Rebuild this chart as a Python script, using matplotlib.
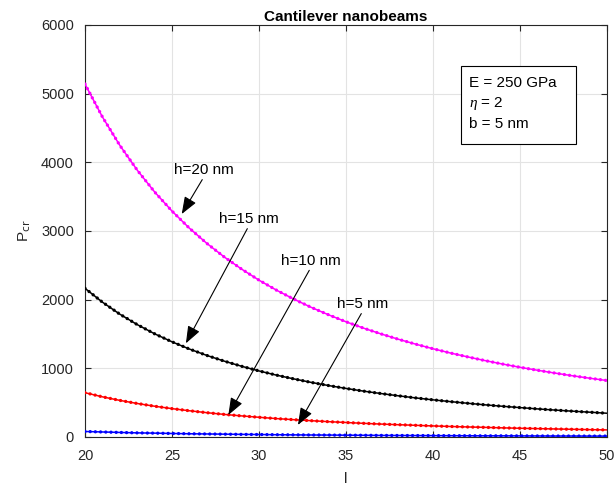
import matplotlib
matplotlib.use("Agg")
import matplotlib.pyplot as plt
from matplotlib.patches import Rectangle

# ========================================================================
# values (P_cr against l)
length = list(range(20, 51))

p_h20 = [5140, 4662, 4248, 3887, 3569, 3290, 3041, 2820, 2622, 2445, 2284,
         2139, 2008, 1888, 1779, 1678, 1586, 1502, 1424, 1352, 1285,
         1223, 1166, 1112, 1062, 1015, 972, 931, 892, 856, 822]
p_h15 = [2165, 1964, 1789, 1637, 1503, 1386, 1281, 1188, 1105, 1030, 962,
         901, 846, 795, 749, 707, 668, 633, 600, 569, 541,
         515, 491, 468, 447, 428, 409, 392, 376, 361, 346]
p_h10 = [645, 585, 533, 488, 448, 413, 382, 354, 329, 307, 287,
         268, 252, 237, 223, 211, 199, 188, 179, 170, 161,
         153, 146, 140, 133, 127, 122, 117, 112, 107, 103]
p_h5 = [80, 73, 66, 60, 56, 51, 47, 44, 41, 38, 36,
        33, 31, 29, 28, 26, 25, 23, 22, 21, 20,
        19, 18, 17, 17, 16, 15, 14, 14, 13, 13]

series = [p_h20, p_h15, p_h10, p_h5]
colors = ["#ff00ff", "black", "red", "blue"]

# label, text position, arrow tip (data coords)
labels = ["h=20 nm", "h=15 nm", "h=10 nm", "h=5 nm"]
text_pos = [(26.84, 3888), (29.43, 3174), (32.99, 2567), (35.98, 1937)]
tip_pos = [(25.56, 3247), (25.80, 1364), (28.24, 320), (32.24, 175)]

params = ["E = 250 GPa", r"$\eta$ = 2", "b = 5 nm"]

xticks = [20, 25, 30, 35, 40, 45, 50]
yticks = [0, 1000, 2000, 3000, 4000, 5000, 6000]


def main():
    plt.rcParams["font.family"] = ["Liberation Sans", "DejaVu Sans"]
    plt.rcParams["mathtext.fontset"] = "custom"
    plt.rcParams["mathtext.it"] = "Liberation Serif:italic"

    fig = plt.figure(figsize=(6.14, 4.87), dpi=100)
    ax = fig.add_axes([0.1384, 0.1027, 0.8502, 0.846])

    # ====================================================================
    for vals, col in zip(series, colors):
        ax.plot(length, vals, color=col, lw=1.1, zorder=3)
        ax.plot(length, vals, color=col, lw=2.4, zorder=3,
                linestyle=(0, (0.01, 1.55)), dash_capstyle="round")

    for lab, tp, hp in zip(labels, text_pos, tip_pos):
        ax.annotate("", xy=hp, xytext=(tp[0] - 0.1, tp[1] - 140),
                    arrowprops=dict(arrowstyle="-|>,head_length=1.05,head_width=0.4",
                                    color="black", lw=0.8, shrinkA=0, shrinkB=0),
                    zorder=4)
        ax.text(tp[0], tp[1], lab, fontsize=11, ha="center", va="center",
                zorder=5)

    # parameter box
    ax.add_patch(Rectangle((0.720, 0.7104), 0.2206, 0.19, transform=ax.transAxes,
                           facecolor="white", edgecolor="black", lw=0.8,
                           zorder=5))
    for i, s in enumerate(params):
        ax.text(0.7356, 0.859 - i * 0.0495, s, transform=ax.transAxes,
                fontsize=11, ha="left", va="center", zorder=6)

    # ====================================================================
    ax.set_xlim(20, 50)
    ax.set_ylim(0, 6000)
    ax.set_xticks(xticks)
    ax.set_yticks(yticks)
    ax.grid(True, color="#e3e3e3", lw=0.8)
    ax.set_axisbelow(True)
    ax.tick_params(direction="in", length=4, top=True, right=True,
                   labelsize=10.5, colors="#262626", width=0.8)
    ax.tick_params(axis="x", pad=9)
    ax.tick_params(axis="y", pad=8)
    for sp in ax.spines.values():
        sp.set_color("#262626")
        sp.set_linewidth(0.8)

    ax.set_title("Cantilever nanobeams", fontsize=11, fontweight="bold", pad=3)
    ax.set_xlabel("l", fontsize=11, labelpad=6, color="#262626")
    ax.set_ylabel(r"P$_{\rm cr}$", fontsize=11, labelpad=6, color="#262626")

    fig.savefig("out.png", dpi=100)


if __name__ == "__main__":
    main()
